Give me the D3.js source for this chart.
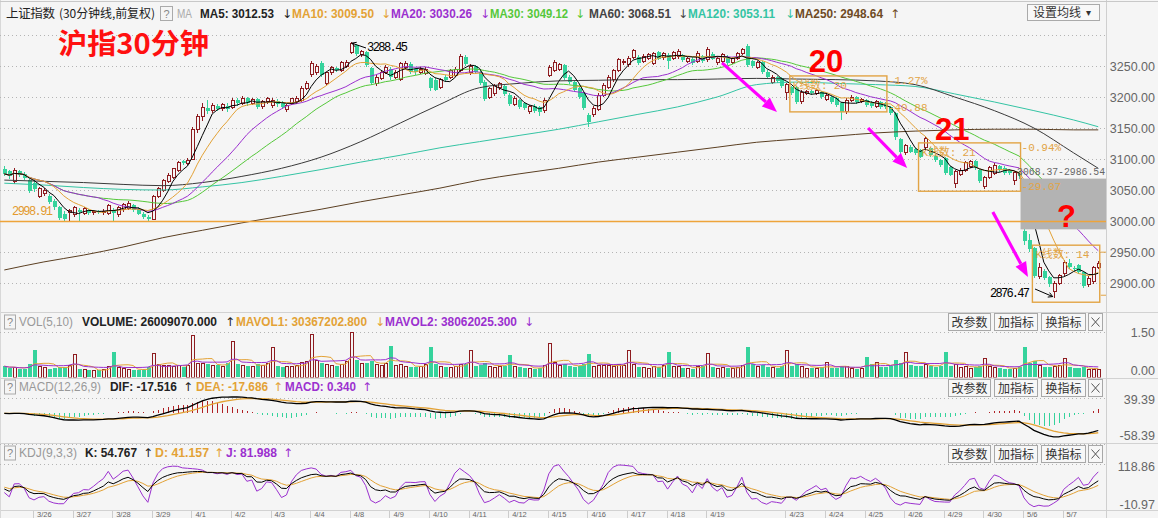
<!DOCTYPE html>
<html><head><meta charset="utf-8">
<script src="https://cdn.jsdelivr.net/npm/d3@7"></script>
<style>
html,body{margin:0;padding:0;background:#f5f5f5;}
svg{display:block;}
</style></head><body>
<svg id="c" width="1158" height="518"></svg>
<script>
// ---------------- DATA ----------------
const opens=[3084,3080,3063,3080,3076,3066,3062,3040,3045,3040,3032,3022,3012,3013,3010,3018,3012,3018,3013,3016,3013,3012,3018,3010,3018,3020,3026,3020,3012,3007,
3003,3040,3050,3064,3070,3082,3096,3093,3100,3148,3168,3183,3178,3186,3181,3186,3183,3195,3190,3198,3190,3196,3184,3192,3186,3194,3190,3180,3190,3192,
3195,3214,3236,3240,3255,3222,3239,3247,3243,3250,3272,3284,3268,3272,3247,3222,3230,3240,3245,3232,3228,3248,3254,3245,3240,3238,3230,3228,3216,3232,
3232,3235,3243,3265,3240,3250,3240,3225,3200,3205,3215,3218,3203,3188,3195,3190,3176,3186,3184,3178,3235,3243,3245,3252,3232,3224,3215,3206,3171,3171,
3180,3203,3216,3228,3243,3255,3252,3264,3265,3258,3262,3254,3272,3263,3268,3262,3265,3268,3258,3262,3258,3266,3260,3270,3255,3258,3265,3256,3262,3270,
3282,3258,3248,3256,3240,3224,3232,3230,3208,3216,3216,3192,3206,3210,3206,3208,3196,3200,3198,3190,3176,3195,3200,3193,3195,3190,3185,3192,3190,3184,
3174,3132,3110,3120,3116,3114,3118,3118,3105,3098,3102,3087,3060,3075,3082,3088,3097,3082,3056,3070,3077,3088,3086,3082,3065,3078,2984,2970,2957,2911,
2920,2910,2886,2900,2915,2932,2925,2929,2918,2897,2902,2925];
const closes=[3076,3072,3082,3075,3070,3048,3052,3052,3050,3030,3022,3005,3003,3017,3021,3014,3020,3013,3016,3014,3016,3025,3013,3022,3026,3028,3018,3012,3006,3003,
3040,3052,3066,3074,3084,3094,3093,3098,3148,3168,3183,3178,3186,3181,3188,3180,3195,3190,3198,3190,3196,3184,3192,3197,3194,3188,3184,3186,3197,3198,
3214,3222,3254,3250,3236,3239,3247,3243,3256,3255,3286,3270,3273,3252,3222,3232,3240,3248,3232,3240,3254,3254,3240,3240,3245,3245,3214,3212,3228,3228,
3242,3245,3266,3253,3250,3240,3222,3197,3213,3218,3222,3205,3188,3198,3184,3182,3184,3178,3176,3195,3247,3256,3252,3230,3224,3211,3200,3182,3160,3182,
3203,3219,3232,3242,3260,3258,3262,3275,3255,3266,3268,3270,3262,3270,3258,3272,3274,3260,3262,3255,3270,3258,3276,3262,3262,3268,3255,3262,3270,3276,
3252,3250,3255,3240,3232,3232,3226,3218,3220,3206,3192,3208,3209,3207,3210,3200,3203,3192,3187,3176,3195,3200,3192,3196,3187,3185,3192,3184,3184,3174,
3135,3112,3122,3112,3110,3104,3133,3106,3098,3090,3078,3075,3080,3082,3094,3096,3085,3064,3070,3086,3090,3082,3078,3077,3078,3072,2968,2955,2912,2925,
2908,2898,2899,2912,2933,2926,2922,2918,2895,2908,2925,2932];
const highs=[3088,3083,3086,3083,3079,3068,3066,3055,3054,3043,3035,3024,3016,3019,3025,3021,3023,3020,3018,3018,3019,3028,3021,3025,3029,3032,3028,3022,3014,3009,
3042,3055,3068,3077,3086,3096,3099,3101,3152,3172,3190,3195,3190,3189,3191,3190,3199,3198,3202,3200,3199,3198,3195,3200,3198,3196,3193,3189,3199,3201,
3217,3226,3258,3253,3258,3241,3250,3249,3258,3259,3288.45,3286,3276,3274,3249,3235,3243,3251,3248,3243,3256,3258,3256,3247,3248,3248,3232,3230,3231,3235,
3245,3248,3270,3267,3254,3252,3242,3227,3216,3221,3225,3220,3206,3201,3197,3192,3187,3188,3186,3198,3251,3260,3255,3254,3235,3227,3217,3208,3174,3185,
3206,3222,3235,3245,3263,3261,3266,3278,3268,3269,3271,3273,3274,3273,3271,3275,3277,3270,3265,3264,3274,3268,3280,3272,3265,3271,3267,3265,3273,3279,
3285,3260,3258,3258,3243,3235,3234,3232,3223,3218,3218,3211,3212,3212,3213,3210,3206,3202,3200,3192,3198,3203,3202,3199,3197,3193,3195,3194,3192,3186,
3176,3134,3125,3123,3118,3116,3136,3120,3107,3100,3104,3089,3083,3085,3097,3099,3099,3084,3073,3089,3093,3090,3088,3084,3081,3080,2986.54,2979,2958,2932,
2922,2912,2903,2915,2937,2938,2928,2931,2920,2911,2928,2935];
const lows=[3072,3068,3060,3071,3066,3045,3046,3037,3041,3027,3018,3001,2998.91,3000,3006,3000,3009,3010,3010,3011,3010,3010,3000,3007,3015,3017,3015,3009,3003,3000,
3001,3037,3047,3061,3068,3079,3090,3090,3098,3142,3162,3172,3174,3177,3178,3176,3180,3186,3187,3186,3187,3180,3181,3189,3182,3184,3181,3176,3187,3189,
3192,3211,3233,3236,3232,3219,3236,3240,3240,3247,3270,3266,3264,3249,3219,3218,3227,3237,3228,3229,3226,3245,3237,3236,3237,3235,3210,3209,3213,3225,
3229,3232,3240,3250,3236,3237,3219,3194,3197,3202,3212,3202,3185,3185,3181,3179,3173,3175,3170,3175,3232,3240,3242,3227,3221,3208,3197,3179,3152,3168,
3177,3200,3213,3225,3240,3252,3248,3261,3252,3255,3259,3251,3259,3260,3245,3259,3262,3257,3255,3252,3255,3255,3257,3259,3252,3255,3252,3253,3259,3267,
3249,3246,3245,3237,3229,3221,3223,3215,3195,3203,3189,3189,3203,3204,3203,3197,3193,3189,3184,3163,3173,3192,3189,3190,3184,3182,3182,3181,3181,3171,
3131,3105,3107,3109,3107,3101,3115,3103,3095,3087,3075,3072,3053,3072,3079,3085,3082,3061,3052,3067,3074,3079,3075,3074,3058,3068.37,2962,2950,2908,2906,
2905,2894,2876.47,2897,2912,2923,2919,2915,2892,2894,2899,2922];
// volume in units of 1e8
const volumes=[0.36,0.30,0.32,0.26,0.28,0.42,0.90,0.36,0.32,0.28,0.30,0.34,0.32,0.38,0.74,0.28,0.24,0.22,0.21,0.22,0.24,0.36,0.82,0.32,0.28,0.26,0.24,0.22,0.24,0.32,
0.79,0.42,0.40,0.38,0.36,0.40,0.34,0.38,1.37,0.46,0.44,0.42,0.38,0.40,0.36,0.48,1.20,0.44,0.40,0.38,0.36,0.42,0.38,0.46,1.00,0.38,0.34,0.36,0.34,0.38,
0.48,0.52,1.42,0.54,0.48,0.42,0.40,0.38,0.42,0.52,1.50,0.58,0.46,0.48,0.54,0.42,0.40,0.46,1.04,0.38,0.42,0.36,0.34,0.32,0.34,0.42,0.99,0.42,0.36,0.34,
0.32,0.34,0.42,0.44,0.90,0.38,0.40,0.48,0.36,0.32,0.34,0.38,0.74,0.34,0.32,0.30,0.29,0.28,0.30,0.38,1.12,0.48,0.38,0.42,0.36,0.34,0.36,0.44,0.77,0.36,
0.38,0.40,0.38,0.36,0.42,0.38,0.90,0.42,0.34,0.32,0.30,0.34,0.32,0.38,0.84,0.36,0.34,0.30,0.29,0.28,0.34,0.36,0.80,0.34,0.30,0.32,0.29,0.28,0.32,0.38,
1.00,0.42,0.36,0.40,0.34,0.32,0.30,0.36,0.88,0.38,0.42,0.34,0.30,0.29,0.28,0.32,0.50,0.30,0.29,0.36,0.34,0.29,0.28,0.30,0.68,0.42,0.48,0.34,0.32,0.38,
0.58,0.46,0.82,0.40,0.36,0.38,0.42,0.36,0.34,0.38,0.84,0.36,0.42,0.32,0.34,0.30,0.32,0.36,0.63,0.34,0.32,0.29,0.28,0.27,0.30,0.34,0.99,0.48,0.54,0.38,
0.34,0.32,0.36,0.38,0.63,0.32,0.29,0.30,0.34,0.25,0.24,0.26];
// long moving averages at every 8th bar
const maIdx=[0,8,16,24,32,40,48,56,64,72,80,88,96,104,112,120,128,136,144,152,160,168,176,184,192,200,208,216,221];
const ma60=[3066,3064,3062,3059,3057,3062,3072,3085,3103,3128,3158,3188,3215,3222,3226,3227,3228,3228,3229,3230,3229,3228,3226,3220,3200,3178,3150,3110,3085];
const ma120=[3061,3058,3054,3051,3050,3055,3062,3072,3083,3095,3106,3118,3128,3138,3148,3160,3172,3184,3200,3220,3224,3222,3220,3217,3205,3192,3178,3163,3152];
const ma250=[2921,2934,2945,2958,2973,2985,2997,3008,3019,3031,3042,3053,3066,3076,3085,3095,3103,3111,3119,3127,3132,3137,3142,3145,3147,3148,3148,3147,3147];
const priceTicks=[2900,2950,3000,3050,3100,3150,3200,3250];
const priceGrid=[2900,2950,3000,3050,3100,3150,3200,3250,3300];
const dayStarts=[6,14,22,30,38,46,54,62,70,78,86,94,102,110,118,126,134,142,158,166,174,182,190,198,206,214];
const dayLabels=["3/26","3/27","3/28","3/29","4/1","4/2","4/3","4/4","4/8","4/9","4/10","4/11","4/12","4/15","4/16","4/17","4/18","4/19","4/23","4/24","4/25","4/26","4/29","4/30","5/6","5/7"];
// counted-bar boxes
const boxStart=[159,185,208], boxEnd=[178,205,221];
const boxTop=[3234,3126,2961], boxBottom=[3176,3048,2869];
const boxPct=["-1.27%","-0.94%",""], boxPts=["-40.88","-29.07",""];
const gapHigh=3068.37, gapLow=2986.54, markLine=3000;
const peakIdx=70, peakVal=3288.45, lowIdx=212, lowVal=2876.47, leftLowVal=2998.91;
const arrowFrom=[[145,3255],[174.5,3150],[199.7,3014.5]], arrowTo=[[156.1,3176],[182.4,3085.5],[206.8,2909.7]];
const bigNums=["20","21","?"], bigNumAt=[[166,3241],[191.5,3131],[214.6,2990]];
const maHeader=[["MA5: 3012.53","↓"],["MA10: 3009.50","↓"],["MA20: 3030.26","↓"],["MA30: 3049.12","↓"],["MA60: 3068.51","↓"],["MA120: 3053.11","↓"],["MA250: 2948.64","↑"]];
const volHeader=[["VOLUME: 26009070.000","↑"],["MAVOL1: 30367202.800","↓"],["MAVOL2: 38062025.300","↓"]];
const macdHeader=[["DIF: -17.516","↑"],["DEA: -17.686","↑"],["MACD: 0.340","↑"]];
const kdjHeader=[["K: 54.767","↑"],["D: 41.157","↑"],["J: 81.988","↑"]];

// ---------------- SETUP ----------------
const N=closes.length;
const BG='#f5f5f5', RED='#8e1c20', GREEN='#35d39c', ORANGE='#e3a236', PURPLE='#9b30cf',
      MAGREEN='#55c83a', DARK='#3a3a3a', TEAL='#34c4a4', BROWN='#5b3f22', BOXC='#e2a445';
const LAT='"Liberation Sans",Arial,"Noto Sans CJK SC",sans-serif';
const CJK='"Noto Sans CJK SC","Liberation Sans",sans-serif';
const MONO='"Liberation Mono","DejaVu Sans Mono","Noto Sans CJK SC",monospace';
const svg=d3.select('#c');
svg.append('rect').attr('width',1158).attr('height',518).attr('fill',BG);
const defs=svg.append('defs');
function clip(id,y0,y1){defs.append('clipPath').attr('id',id).append('rect').attr('x',0).attr('y',y0).attr('width',1106).attr('height',y1-y0);}
clip('cP',22,312); clip('cV',330,377.5); clip('cM',379,443); clip('cK',444,510);

const x=d3.scaleLinear().domain([0,N-1]).range([4.3,4.3+4.95*(N-1)]);
const yP=d3.scaleLinear().domain([2900,3250]).range([283,66]);
const yV=d3.scaleLinear().domain([0,1.5]).range([377,332]);
const yM=d3.scaleLinear().domain([-58.39,39.39]).range([437,397.5]);
const yK=d3.scaleLinear().domain([-10.97,118.86]).range([506,464]);
const idx=d3.range(N);
const up=i=>closes[i]>=opens[i];
const cx=i=>Math.round(x(i))+0.5;

// ---------------- derived indicators ----------------
const sma=(a,n)=>a.map((_,i)=>d3.mean(a.slice(Math.max(0,i-n+1),i+1)));
const ma5=sma(closes,5), ma10=sma(closes,10), ma20=sma(closes,20), ma30=sma(closes,30);
const mavol1=sma(volumes,5), mavol2=sma(volumes,10);
const dif=[],dea=[],hist=[];
{let e12=closes[0],e26=closes[0],de=0;
 closes.forEach((c,i)=>{ if(i>0){e12=(2*c+11*e12)/13;e26=(2*c+25*e26)/27;}
   const d=e12-e26; de=i===0?d:(2*d+8*de)/10; dif.push(d);dea.push(de);hist.push(2*(d-de));});}
const kA=[],dA=[],jA=[];
{let K=50,D=50;
 closes.forEach((c,i)=>{const s=Math.max(0,i-8);const lo=d3.min(lows.slice(s,i+1)),hi=d3.max(highs.slice(s,i+1));
   const rsv=hi===lo?50:(c-lo)/(hi-lo)*100; K=(2*K+rsv)/3; D=(2*D+K)/3; kA.push(K);dA.push(D);jA.push(3*K-2*D);});}

// ---------------- frame ----------------
const frame=svg.append('g');
[312.5,378.5,443.5,510.5].forEach(y=>frame.append('line').attr('x1',0).attr('x2',1158).attr('y1',y).attr('y2',y).attr('stroke','#d2d2d2'));
frame.append('line').attr('x1',1106.5).attr('x2',1106.5).attr('y1',0).attr('y2',518).attr('stroke','#cfcfcf');
frame.append('line').attr('x1',0.5).attr('x2',0.5).attr('y1',0).attr('y2',518).attr('stroke','#d8d8d8');
frame.append('line').attr('x1',0).attr('x2',1158).attr('y1',1.5).attr('y2',1.5).attr('stroke','#c8c8c8');

function dotted(g,y){g.append('line').attr('x1',0).attr('x2',1106).attr('y1',Math.round(y)+0.5).attr('y2',Math.round(y)+0.5)
  .attr('stroke','#b4b4b4').attr('stroke-dasharray','1,3');}

// ---------------- price panel ----------------
const gP=svg.append('g').attr('clip-path','url(#cP)');
priceGrid.forEach(v=>dotted(gP,yP(v)));
// gap area
svg.append('rect').attr('x',x(205)+1.5).attr('width',1106-(x(205)+1.5)).attr('y',yP(gapHigh)).attr('height',yP(gapLow)-yP(gapHigh)).attr('fill','#b3b3b3');
svg.append('line').attr('x1',0).attr('x2',1106).attr('y1',yP(markLine)+0.5).attr('y2',yP(markLine)+0.5).attr('stroke','#eea43a').attr('stroke-width',1.3);

// candles
const cg=gP.selectAll('g.k').data(idx).join('g').attr('shape-rendering','crispEdges');
cg.append('line').attr('x1',cx).attr('x2',cx).attr('y1',i=>yP(highs[i])).attr('y2',i=>yP(lows[i]))
  .attr('stroke',i=>up(i)?RED:GREEN);
cg.append('rect')
  .attr('x',i=>up(i)?cx(i)-1.5:cx(i)-2)
  .attr('width',i=>up(i)?3:4)
  .attr('y',i=>yP(Math.max(opens[i],closes[i])))
  .attr('height',i=>Math.max(1,yP(Math.min(opens[i],closes[i]))-yP(Math.max(opens[i],closes[i]))))
  .attr('fill',i=>up(i)?BG:GREEN).attr('stroke',i=>up(i)?RED:'none');

// moving averages
function drawSeries(g,vals,ys,color,w){
  g.append('path').datum(idx).attr('fill','none').attr('stroke',color).attr('stroke-width',w||1)
   .attr('d',d3.line().x(i=>x(i)).y(i=>ys(vals[i])));
}
function drawSampled(g,ixs,vals,color){
  g.append('path').datum(ixs.map((d,k)=>[d,vals[k]])).attr('fill','none').attr('stroke',color).attr('stroke-width',1)
   .attr('d',d3.line().curve(d3.curveMonotoneX).x(d=>x(d[0])).y(d=>yP(d[1])));
}
drawSampled(gP,maIdx,ma250,BROWN);
drawSampled(gP,maIdx,ma120,TEAL);
drawSampled(gP,maIdx,ma60,DARK);
drawSeries(gP,ma30,yP,MAGREEN);
drawSeries(gP,ma20,yP,PURPLE);
drawSeries(gP,ma10,yP,ORANGE);
drawSeries(gP,ma5,yP,'#000');

// boxes
const ann=svg.append('g');
boxStart.forEach((s,k)=>{
  const x0=x(s)-1.5, x1=x(boxEnd[k])+1.5, y0=yP(boxTop[k]), y1=yP(boxBottom[k]);
  ann.append('rect').attr('x',x0).attr('y',y0).attr('width',x1-x0).attr('height',y1-y0).attr('fill','none').attr('stroke',BOXC).attr('stroke-width',1.4);
  ann.append('text').attr('x',x0+3).attr('y',y0+13).text('K线数: '+(boxEnd[k]-s+1))
    .attr('font-family',MONO).attr('font-size',11).attr('fill',BOXC).attr('textLength',54);
  if(boxPct[k]){
    ann.append('text').attr('x',x1+1).attr('y',y0+8).text(boxPct[k]).attr('font-family',MONO).attr('font-size',11).attr('fill',BOXC);
    ann.append('text').attr('x',x1+1).attr('y',y1-1).text(boxPts[k]).attr('font-family',MONO).attr('font-size',11).attr('fill',BOXC);
  } else {
    [y0+7,y1-7].forEach(yy=>ann.append('line').attr('x1',x1+1).attr('x2',1106).attr('y1',yy).attr('y2',yy).attr('stroke',BOXC));
  }
});
ann.append('text').attr('x',x(205)-2).attr('y',yP(gapHigh)-3.5).text(gapHigh.toFixed(2)+'-'+gapLow.toFixed(2))
  .attr('font-family',MONO).attr('font-size',11).attr('fill','#666').attr('textLength',88).attr('lengthAdjust','spacingAndGlyphs');

// extreme labels
function smallArrow(g,x1,y1,x2,y2,c){
  const a=Math.atan2(y2-y1,x2-x1);
  g.append('line').attr('x1',x1).attr('y1',y1).attr('x2',x2).attr('y2',y2).attr('stroke',c);
  g.append('path').attr('d',`M${x2},${y2}L${x2-5*Math.cos(a-0.5)},${y2-5*Math.sin(a-0.5)}M${x2},${y2}L${x2-5*Math.cos(a+0.5)},${y2-5*Math.sin(a+0.5)}`).attr('stroke',c).attr('fill','none');
}
smallArrow(ann,366,48,x(peakIdx)+1,yP(peakVal)+1,'#000');
ann.append('text').attr('x',367).attr('y',51).text(peakVal.toFixed(2)).attr('font-family',MONO).attr('font-size',12).attr('fill','#000').attr('textLength',41);
smallArrow(ann,1035,289,x(lowIdx)-1,yP(lowVal)-1,'#000');
ann.append('text').attr('x',990).attr('y',297).text(lowVal.toFixed(2)).attr('font-family',MONO).attr('font-size',12).attr('fill','#000').attr('textLength',40);
ann.append('text').attr('x',12).attr('y',215).text(leftLowVal.toFixed(2)).attr('font-family',MONO).attr('font-size',12).attr('fill','#e39a2e').attr('textLength',41);

// magenta arrows
function bigArrow(g,x1,y1,x2,y2){
  const a=Math.atan2(y2-y1,x2-x1), hl=15, hw=12;
  const bx=x2-hl*Math.cos(a), by=y2-hl*Math.sin(a);
  g.append('line').attr('x1',x1).attr('y1',y1).attr('x2',bx).attr('y2',by).attr('stroke','#ff00ff').attr('stroke-width',3.2);
  g.append('path').attr('d',`M${x2},${y2}L${bx+hw/2*Math.sin(a)},${by-hw/2*Math.cos(a)}L${bx-hw/2*Math.sin(a)},${by+hw/2*Math.cos(a)}Z`).attr('fill','#ff00ff');
}
arrowFrom.forEach((f,k)=>bigArrow(ann,x(f[0]),yP(f[1]),x(arrowTo[k][0]),yP(arrowTo[k][1])));
bigNums.forEach((t,k)=>ann.append('text').attr('x',x(bigNumAt[k][0])).attr('y',yP(bigNumAt[k][1])).attr('text-anchor','middle')
  .text(t).attr('font-family',LAT).attr('font-weight','bold').attr('font-size',31).attr('fill','#ff0000'));

// title
svg.append('text').attr('x',58).attr('y',54).text('沪指30分钟').attr('font-family',CJK).attr('font-weight','bold')
  .attr('font-size',28).attr('fill','#ff1010').attr('textLength',151).attr('lengthAdjust','spacingAndGlyphs');

// price axis labels
const ax=svg.append('g').attr('font-family',LAT).attr('font-size',12.5).attr('fill','#666').attr('text-anchor','end');
priceTicks.forEach(v=>ax.append('text').attr('x',1155).attr('y',yP(v)+4.5).text(v.toFixed(2)));
[[1.5,'1.50',332],[0,'0.00',370]].forEach(d=>ax.append('text').attr('x',1155).attr('y',d[2]+4.5).text(d[1]));
[[39.39,'39.39',399],[-58.39,'-58.39',435]].forEach(d=>ax.append('text').attr('x',1155).attr('y',d[2]+4.5).text(d[1]));
[[118.86,'118.86',466],[-10.97,'-10.97',504]].forEach(d=>ax.append('text').attr('x',1155).attr('y',d[2]+4.5).text(d[1]));

// ---------------- header ----------------
function qbox(y){svg.append('rect').attr('x',4.5).attr('y',y).attr('width',11).attr('height',14).attr('fill','none').attr('stroke','#aaa');
  svg.append('text').attr('x',10).attr('y',y+11).attr('text-anchor','middle').text('?').attr('font-family',LAT).attr('font-size',11).attr('fill','#888');}
function htext(xp,y,s,c,w,bold){const t=svg.append('text').attr('x',xp).attr('y',y).text(s).attr('font-family',LAT).attr('font-size',12).attr('fill',c);
  if(bold)t.attr('font-weight','bold'); if(w)t.attr('textLength',w).attr('lengthAdjust','spacingAndGlyphs'); return t;}
function harrow(xp,y,s,c){svg.append('text').attr('x',xp).attr('y',y).text(s).attr('font-family','"DejaVu Sans",sans-serif').attr('font-size',12).attr('fill',c);}

svg.append('text').attr('x',6).attr('y',18).text('上证指数').attr('font-family',CJK).attr('font-size',12.5).attr('fill','#222').attr('textLength',49);
svg.append('text').attr('x',59).attr('y',18).text('(30分钟线,前复权)').attr('font-family',CJK).attr('font-size',12).attr('fill','#222').attr('textLength',96);
svg.append('rect').attr('x',160.5).attr('y',6.5).attr('width',12).attr('height',14).attr('fill','none').attr('stroke','#aaa');
svg.append('text').attr('x',166.5).attr('y',18).attr('text-anchor','middle').text('?').attr('font-family',LAT).attr('font-size',11).attr('fill','#888');
htext(177,18,'MA','#aaa',15,false);
const maCol=['#222',ORANGE,PURPLE,MAGREEN,'#444',TEAL,'#6e4a24'];
const maX=[200,292,391,490,589,688,795], maW=[74,82,81,78,82,87,88], maAX=[282,381,480,575,678,785,890];
maHeader.forEach((h,k)=>{htext(maX[k],18,h[0],maCol[k],maW[k],true);harrow(maAX[k],18,h[1],maCol[k]);});
svg.append('rect').attr('x',1027.5).attr('y',4.5).attr('width',72).attr('height',16).attr('fill','#f8f8f8').attr('stroke','#aaa');
svg.append('text').attr('x',1033).attr('y',17).text('设置均线').attr('font-family',CJK).attr('font-size',12).attr('fill','#333');
svg.append('text').attr('x',1086).attr('y',16).text('▾').attr('font-family','"DejaVu Sans",sans-serif').attr('font-size',10).attr('fill','#333');

function buttons(y){
  [[948,42,'改参数'],[994,43,'加指标'],[1041,44,'换指标']].forEach(b=>{
    svg.append('rect').attr('x',b[0]+0.5).attr('y',y+0.5).attr('width',b[1]).attr('height',17).attr('fill','#f7f7f7').attr('stroke','#a8a8a8');
    svg.append('text').attr('x',b[0]+b[1]/2+0.5).attr('y',y+13.5).attr('text-anchor','middle').text(b[2]).attr('font-family',CJK).attr('font-size',12).attr('fill','#333');});
  svg.append('rect').attr('x',1088.5).attr('y',y+0.5).attr('width',14).attr('height',17).attr('fill','#f7f7f7').attr('stroke','#a8a8a8');
  svg.append('path').attr('d',`M1091.5,${y+4.5}L1099.5,${y+13.5}M1099.5,${y+4.5}L1091.5,${y+13.5}`).attr('stroke','#555');
}
// VOL header
qbox(315); htext(19,326,'VOL(5,10)','#999',54,false);
[[82,135,225,'#222'],[236,131,375,ORANGE],[385,132,524,PURPLE]].forEach((p,k)=>{htext(p[0],326,volHeader[k][0],p[3],p[1],true);harrow(p[2],326,volHeader[k][1],p[3]);});
buttons(313);
// MACD header
qbox(380); htext(19,391,'MACD(12,26,9)','#999',82,false);
[[110,67,183,'#222'],[196,72,273,ORANGE],[285,71,362,PURPLE]].forEach((p,k)=>{htext(p[0],391,macdHeader[k][0],p[3],p[1],true);harrow(p[2],391,macdHeader[k][1],p[3]);});
buttons(379);
// KDJ header
qbox(446); htext(19,457,'KDJ(9,3,3)','#999',58,false);
[[85,52,143,'#222'],[155,54,214,ORANGE],[226,51,283,PURPLE]].forEach((p,k)=>{htext(p[0],457,kdjHeader[k][0],p[3],p[1],true);harrow(p[2],457,kdjHeader[k][1],p[3]);});
buttons(445);

// ---------------- VOL panel ----------------
const gV=svg.append('g').attr('clip-path','url(#cV)');
dotted(gV,yV(1.5));
gV.selectAll('rect.v').data(idx).join('rect').attr('shape-rendering','crispEdges')
  .attr('x',i=>up(i)?cx(i)-1.5:cx(i)-2).attr('width',i=>up(i)?3:4)
  .attr('y',i=>yV(volumes[i])).attr('height',i=>yV(0)-yV(volumes[i]))
  .attr('fill',i=>up(i)?BG:GREEN).attr('stroke',i=>up(i)?RED:'none');
drawSeries(gV,mavol1,yV,ORANGE);
drawSeries(gV,mavol2,yV,PURPLE);

// ---------------- MACD panel ----------------
const gM=svg.append('g').attr('clip-path','url(#cM)');
dotted(gM,yM(39.39));
gM.selectAll('line.h').data(idx).join('line').attr('shape-rendering','crispEdges')
  .attr('x1',cx).attr('x2',cx).attr('y1',yM(0)).attr('y2',i=>yM(hist[i]))
  .attr('stroke',i=>hist[i]>=0?'#b02226':GREEN);
drawSeries(gM,dea,yM,ORANGE,1.3);
drawSeries(gM,dif,yM,'#000',1.3);

// ---------------- KDJ panel ----------------
const gK=svg.append('g').attr('clip-path','url(#cK)');
dotted(gK,yK(118.86)); dotted(gK,444);
drawSeries(gK,jA,yK,PURPLE);
drawSeries(gK,dA,yK,ORANGE);
drawSeries(gK,kA,yK,'#000');

// ---------------- date row ----------------
dayStarts.forEach((d,k)=>{
  svg.append('line').attr('x1',cx(d)-1).attr('x2',cx(d)-1).attr('y1',511).attr('y2',518).attr('stroke','#ccc');
  svg.append('text').attr('x',x(d)+3).attr('y',517).text(dayLabels[k]).attr('font-family',LAT).attr('font-size',7.5).attr('fill','#666');
});
</script>
</body></html>
